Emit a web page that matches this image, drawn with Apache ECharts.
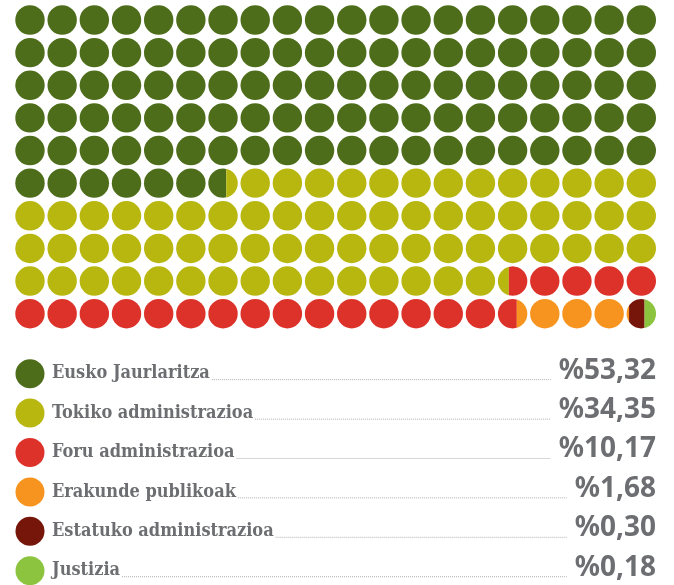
<!DOCTYPE html>
<html>
<head>
<meta charset="utf-8">
<title>ECharts</title>
<script src="https://cdn.jsdelivr.net/npm/echarts@6/dist/echarts.min.js"></script>
<style>body{margin:0;background:#fff;}</style>
</head>
<body>
<div id="main" style="width:674px;height:585px;"></div>
<script type="text/javascript">
// data
var names = ['Eusko Jaurlaritza', 'Tokiko administrazioa', 'Foru administrazioa',
             'Erakunde publikoak', 'Estatuko administrazioa', 'Justizia'];
var values = [53.32, 34.35, 10.17, 1.68, 0.30, 0.18];
var colors = ['#4d6d1a', '#b8b70f', '#dc322a', '#f6941f', '#761509', '#8cc43f'];
var cols = 20, rows = 10;
var unit = 0.5; // % per dot

// split the percentages over the dots, left to right, top to bottom
var cells = [];
var start = 0;
for (var k = 0; k < values.length; k++) {
    var end = (k === values.length - 1) ? cols * rows : start + values[k] / unit;
    for (var i = Math.floor(start); i < Math.ceil(end - 1e-9); i++) {
        var a = Math.max(start, i) - i, b = Math.min(end, i + 1) - i;
        if (b - a < 1e-6) continue;
        cells.push([i % cols, Math.floor(i / cols), a, b, k]);
    }
    start = end;
}

// area share -> x offset (in radius units) of a vertical cut
function cutAt(f) {
    if (f <= 0) return -1;
    if (f >= 1) return 1;
    var lo = -1, hi = 1;
    for (var n = 0; n < 40; n++) {
        var d = (lo + hi) / 2;
        var A = 0.5 + (d * Math.sqrt(1 - d * d) + Math.asin(d)) / Math.PI;
        if (A < f) lo = d; else hi = d;
    }
    return (lo + hi) / 2;
}

function renderDot(params, api) {
    var c = api.coord([api.value(0), api.value(1)]);
    var s = api.size([1, 1]);
    var r = Math.min(s[0], s[1]) * 0.457;
    var f0 = api.value(2), f1 = api.value(3);
    var fill = colors[api.value(4)];
    if (f0 <= 1e-6 && f1 >= 1 - 1e-6) {
        return { type: 'circle', shape: { cx: c[0], cy: c[1], r: r }, style: { fill: fill } };
    }
    var xa = cutAt(f0) * r, xb = cutAt(f1) * r;
    var ymax = r;
    if (xa > 0) ymax = Math.sqrt(r * r - xa * xa);
    if (xb < 0) ymax = Math.sqrt(r * r - xb * xb);
    var right = [], left = [];
    var N = 48;
    for (var j = 0; j <= N; j++) {
        var y = -ymax + 2 * ymax * j / N;
        var w = Math.sqrt(Math.max(0, r * r - y * y));
        right.push([c[0] + Math.min(xb, w), c[1] + y]);
        left.unshift([c[0] + Math.max(xa, -w), c[1] + y]);
    }
    return { type: 'polygon', shape: { points: right.concat(left) }, style: { fill: fill } };
}

// legend
var ctx = document.createElement('canvas').getContext('2d');
var labelFont = 'bold 18px "DejaVu Serif Condensed"';
var pctFont = 'bold 28px "Noto Sans"';
var textColor = '#6d6e71';
var graphics = [];
for (var k = 0; k < names.length; k++) {
    var cy = 373.7 + k * 39.4;
    var pct = '%' + values[k].toFixed(2).replace('.', ',');
    ctx.font = labelFont;
    var lw = ctx.measureText(names[k]).width;
    ctx.font = pctFont;
    var pw = ctx.measureText(pct).width;
    graphics.push({ type: 'circle', shape: { cx: 30, cy: cy, r: 14.5 }, style: { fill: colors[k] } });
    graphics.push({ type: 'text', x: 52, y: cy, style: { text: names[k], font: labelFont, fill: textColor, verticalAlign: 'middle' } });
    graphics.push({ type: 'text', x: 656, y: cy - 3, style: { text: pct, font: pctFont, fill: textColor, align: 'right', verticalAlign: 'middle' } });
    graphics.push({ type: 'line', shape: { x1: 52 + lw + 2, y1: cy + 6, x2: 656 - pw - 8, y2: cy + 6 },
                    style: { stroke: '#9a9a9a', lineWidth: 0.8, lineDash: [1, 1] } });
}

var myChart = echarts.init(document.getElementById('main'));
myChart.setOption({
    animation: false,
    grid: { left: 13.9, right: 16.6, top: 3.7, height: 326.3 },
    xAxis: { type: 'value', min: -0.5, max: cols - 0.5, show: false },
    yAxis: { type: 'value', min: -0.5, max: rows - 0.5, inverse: true, show: false },
    graphic: graphics,
    series: [{
        type: 'custom',
        renderItem: renderDot,
        data: cells
    }]
});
</script>
</body>
</html>
